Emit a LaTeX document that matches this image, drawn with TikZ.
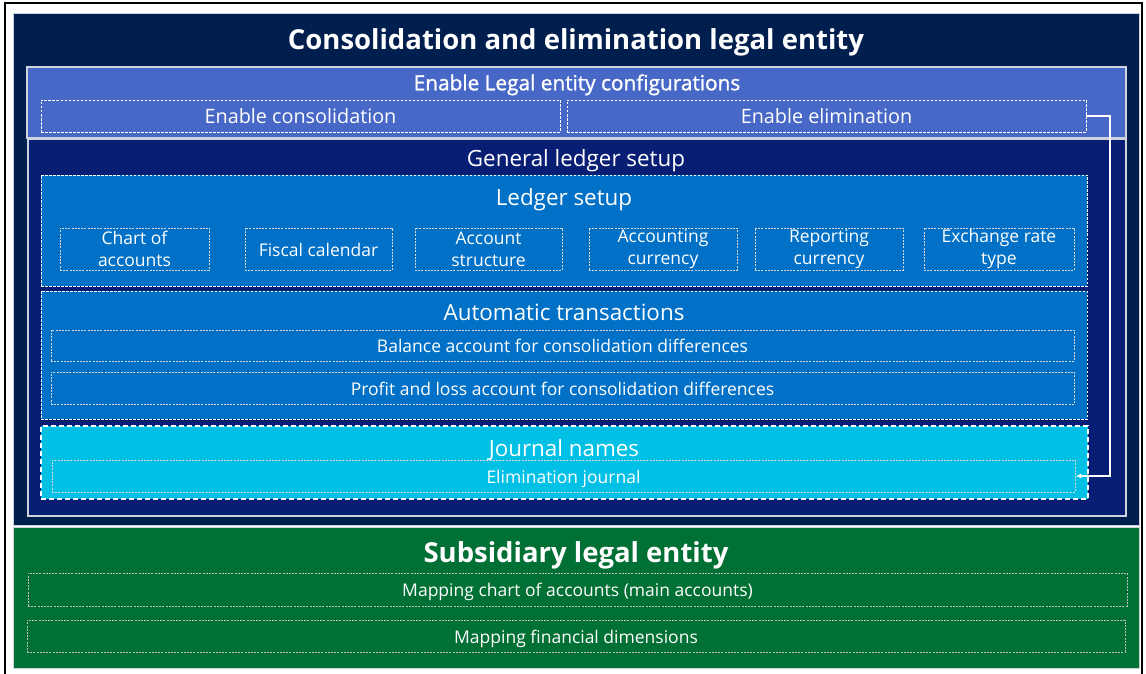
\documentclass[tikz,border=0pt]{standalone}
\usepackage{fontspec}
\setmainfont{Open Sans}
\newfontfamily\semibold[FakeBold=1.2]{Open Sans}
\usetikzlibrary{fit,arrows.meta}
\definecolor{navy}{RGB}{0,31,78}
\definecolor{cfgblue}{RGB}{72,104,200}
\definecolor{glblue}{RGB}{8,30,116}
\definecolor{midblue}{RGB}{0,113,198}
\definecolor{cyanblue}{RGB}{0,192,230}
\definecolor{subgreen}{RGB}{0,112,52}
\definecolor{edge}{RGB}{205,210,220}
\tikzset{
  region/.style={inner sep=0pt, line width=0.8pt, draw=edge},
  frame/.style={inner sep=0pt, line width=1.4pt, draw=edge},
  dbox/.style={inner sep=0pt, draw=white, line width=0.8pt, dash pattern=on 2.5pt off 1.5pt},
  fbox/.style={inner sep=0pt, draw=white!85!black, line width=0.7pt, dash pattern=on 2pt off 1.2pt},
  gbox/.style={fbox, draw=white!75!black},
  jbox/.style={inner sep=0pt, draw=white, line width=1.3pt, dash pattern=on 5pt off 3pt},
  lbl/.style={text=white, inner sep=0pt},
  body/.style={font=\fontsize{17.5}{22}\selectfont, text height=15.75pt, text depth=1.75pt},
  twoline/.style={font=\fontsize{17.5}{22}\selectfont, align=center},
  enab/.style={font=\fontsize{19.8}{24}\selectfont, text height=17.8pt, text depth=2pt},
  cfgfont/.style={font=\semibold\fontsize{20.8}{25}\selectfont, text height=18.7pt, text depth=2.1pt},
  sect/.style={font=\fontsize{22.4}{27}\selectfont, text height=20.2pt, text depth=2.2pt},
  head/.style={font=\bfseries\fontsize{27.5}{32}\selectfont, text height=24.8pt, text depth=2.7pt},
  link/.style={draw=white, line width=1.3pt, -{Latex[length=6pt,width=5pt]}}
}
\begin{document}
\begin{tikzpicture}[x=1pt,y=-1pt]
\useasboundingbox (0,0) rectangle (1146,674);
\fill[white] (0,0) rectangle (1146,674);
\draw[line width=2pt] (4.5,674) -- (4.5,3.5) -- (1142,3.5) -- (1142,674);
% top entity
\node[region, fill=navy, fit={(13,13) (1139,525)}] (cons) {};
\node[lbl, head] (constitle) at (576,38) {Consolidation and elimination legal entity};
% enable config
\node[frame, fill=cfgblue, fit={(27,67) (1126,138)}] (cfg) {};
\node[lbl, cfgfont] (cfgtitle) at (577,82) {Enable Legal entity configurations};
\node[dbox, fit={(41,100) (560,132)}] (encons) {};
\node[lbl, enab] (enconstext) at (encons.center) {Enable consolidation};
\node[dbox, fit={(567,100) (1086,132)}] (enelim) {};
\node[lbl, enab] (enelimtext) at (enelim.center) {Enable elimination};
% general ledger
\node[frame, fill=glblue, fit={(28,139) (1126,516)}] (gl) {};
\node[lbl, sect] (gltitle) at (576,158) {General ledger setup};
% ledger setup
\node[dbox, fill=midblue, fit={(41,175) (1087,286)}] (ls) {};
\node[lbl, sect] (lstitle) at (564,196) {Ledger setup};
\node[fbox, fit={(60,228) (209,270)}] (coa) {};
\node[lbl, twoline] (coatext) at (coa.center) {Chart of\\accounts};
\node[fbox, fit={(245,228) (392,270)}] (fc) {};
\node[lbl, body] (fctext) at (fc.center) {Fiscal calendar};
\node[fbox, fit={(415,228) (562,270)}] (as) {};
\node[lbl, twoline] (astext) at (as.center) {Account\\structure};
\node[fbox, fit={(589,228) (737,270)}] (ac) {};
\node[lbl, twoline] (actext) at (ac.center) {Accounting\\currency};
\node[fbox, fit={(755,228) (903,270)}] (rc) {};
\node[lbl, twoline] (rctext) at (rc.center) {Reporting\\currency};
\node[fbox, fit={(924,228) (1074,270)}] (ert) {};
\node[lbl, twoline] (erttext) at (ert.center) {Exchange rate\\type};
% automatic transactions
\node[dbox, fill=midblue, fit={(41,291) (1087,419)}] (at) {};
\node[lbl, sect] (attitle) at (564,311) {Automatic transactions};
\node[fbox, fit={(51,330) (1074,361)}] (bal) {};
\node[lbl, body] (baltext) at (bal.center) {Balance account for consolidation differences};
\node[fbox, fit={(51,372) (1074,404)}] (pl) {};
\node[lbl, body] (pltext) at (pl.center) {Profit and loss account for consolidation differences};
% journal names
\node[jbox, fill=cyanblue, fit={(41,426) (1088,499)}] (jn) {};
\node[lbl, sect] (jntitle) at (564,447) {Journal names};
\node[fbox, fit={(52,460) (1075,492)}] (ej) {};
\node[lbl, body] (ejtext) at (ej.center) {Elimination journal};
% subsidiary
\node[region, fill=subgreen, fit={(13,527) (1139,668)}] (sub) {};
\node[lbl, head] (subtitle) at (576,551) {Subsidiary legal entity};
\node[gbox, fit={(28,573) (1127,606)}] (mca) {};
\node[lbl, body] (mcatext) at (mca.center) {Mapping chart of accounts (main accounts)};
\node[gbox, fit={(27,620) (1125,652)}] (mfd) {};
\node[lbl, body] (mfdtext) at (mfd.center) {Mapping financial dimensions};
% connector
\coordinate (turn) at (1110,300);
\draw[link] (enelim.east) -| (turn) |- (ej.east);
\end{tikzpicture}
\end{document}
